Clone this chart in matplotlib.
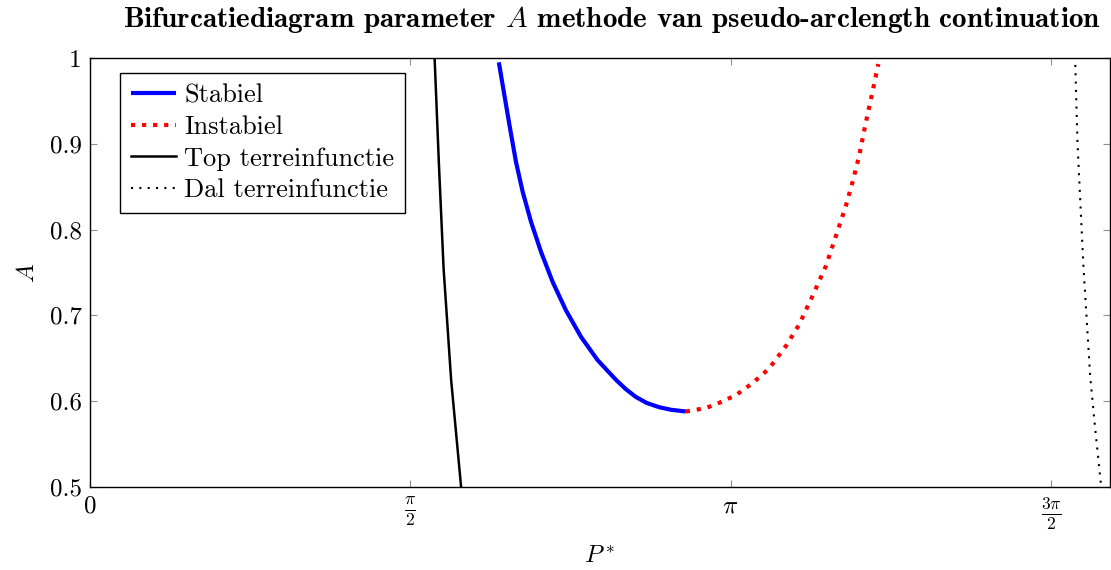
import matplotlib
matplotlib.use("Agg")
import numpy as np
import matplotlib.pyplot as plt

# Stabiele tak (blauw)
stab_p = [2.005, 2.032, 2.057, 2.089, 2.122, 2.163, 2.212, 2.269, 2.334, 2.408, 2.489, 2.579, 2.628, 2.677, 2.730, 2.791, 2.850, 2.922]
stab_a = [0.995, 0.957, 0.922, 0.879, 0.844, 0.809, 0.774, 0.739, 0.706, 0.675, 0.648, 0.625, 0.614, 0.605, 0.598, 0.593, 0.590, 0.588]

# Instabiele tak (rood)
inst_p = [2.922, 3.020, 3.085, 3.167, 3.249, 3.330, 3.412, 3.477, 3.542, 3.608, 3.657, 3.706, 3.738, 3.771, 3.804, 3.836, 3.866]
inst_a = [0.588, 0.592, 0.598, 0.607, 0.621, 0.638, 0.664, 0.689, 0.722, 0.757, 0.792, 0.827, 0.854, 0.885, 0.924, 0.959, 0.993]

# Top en dal van de terreinfunctie
top_p = [1.690, 1.711, 1.734, 1.771, 1.820]
top_a = [1.000, 0.877, 0.755, 0.625, 0.500]
dal_p = [4.832, 4.843, 4.871, 4.905, 4.927, 4.959]
dal_a = [0.992, 0.900, 0.761, 0.629, 0.574, 0.500]

x_ticks = [0, np.pi / 2, np.pi, 3 * np.pi / 2]
x_labels = ["$0$", r"$\frac{\pi}{2}$", r"$\pi$", r"$\frac{3\pi}{2}$"]
y_ticks = [0.5, 0.6, 0.7, 0.8, 0.9, 1.0]
y_labels = ["0.5", "0.6", "0.7", "0.8", "0.9", "1"]

plt.rcParams["font.family"] = "serif"
plt.rcParams["font.serif"] = ["cmr10"]
plt.rcParams["mathtext.fontset"] = "cm"
plt.rcParams["axes.formatter.use_mathtext"] = True

fig = plt.figure(figsize=(11.11, 5.70), dpi=100)
ax = fig.add_axes([0.081, 0.1456, 0.9177, 0.7526])

ax.plot(stab_p, stab_a, color="blue", lw=3.0, label="Stabiel", solid_capstyle="butt")
ax.plot(inst_p, inst_a, color="red", lw=3.0, linestyle=":", label="Instabiel")
ax.plot(top_p, top_a, color="black", lw=1.8, label="Top terreinfunctie")
ax.plot(dal_p, dal_a, color="black", lw=1.5, dashes=(1, 3), label="Dal terreinfunctie")

ax.set_xlim(0, 5.0)
ax.set_ylim(0.5, 1.0)
ax.set_xticks(x_ticks)
ax.set_xticklabels(x_labels, fontsize=18)
ax.set_yticks(y_ticks)
ax.set_yticklabels(y_labels, fontsize=18)
ax.tick_params(direction="in", top=True, right=True, length=5, width=0.8,
               color="#909090", pad=6)
for s in ax.spines.values():
    s.set_linewidth(1.0)

ax.set_xlabel("$P^*$", fontsize=18, labelpad=10)
ax.set_ylabel("$A$", fontsize=18, labelpad=8)
ax.set_title("Bifurcatiediagram parameter $A$ methode van pseudo-arclength continuation",
             fontsize=21, fontfamily="cmb10", pad=22, x=0.512)

leg = ax.legend(loc="upper left", bbox_to_anchor=(0.0297, 0.966), fontsize=19,
                fancybox=False, framealpha=1, edgecolor="black",
                handlelength=1.7, handletextpad=0.3, labelspacing=0.3,
                borderpad=0.42, borderaxespad=0)
leg.get_frame().set_linewidth(1.0)

fig.savefig("out.png", dpi=100)
